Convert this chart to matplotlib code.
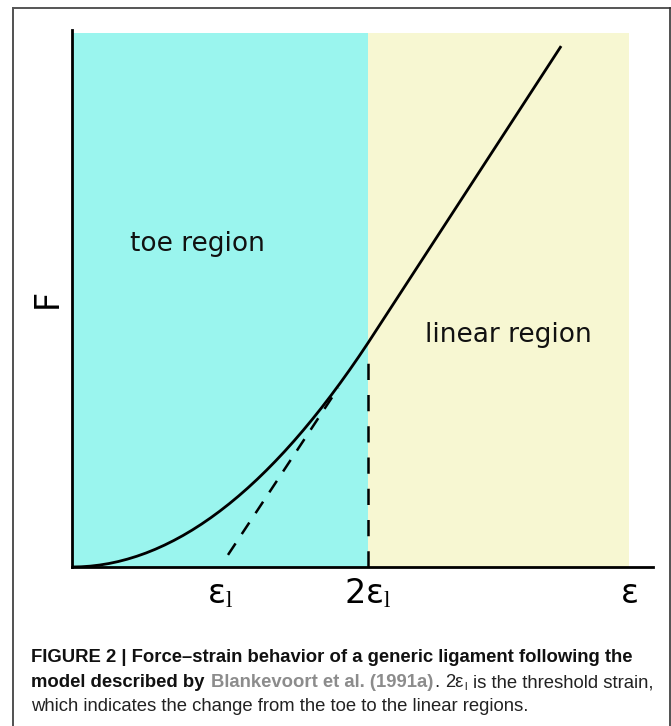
import matplotlib
matplotlib.use("Agg")
import matplotlib.pyplot as plt
from matplotlib.lines import Line2D

# ---------------- data (units: strain in multiples of eps_l, force relative to F(2 eps_l)) -------------
curve_eps = [0.0, 0.0625, 0.125, 0.1875, 0.25, 0.3125, 0.375, 0.4375, 0.5, 0.5625, 0.625,
             0.6875, 0.75, 0.8125, 0.875, 0.9375, 1.0, 1.0625, 1.125, 1.1875, 1.25, 1.3125,
             1.375, 1.4375, 1.5, 1.5625, 1.625, 1.6875, 1.75, 1.8125, 1.875, 1.9375, 2.0, 3.3]
curve_F = [0.0, 0.001, 0.0039, 0.0088, 0.0156, 0.0244, 0.0352, 0.0479, 0.0625, 0.0791, 0.0977,
           0.1182, 0.1406, 0.1650, 0.1914, 0.2197, 0.25, 0.2822, 0.3164, 0.3525, 0.3906, 0.4307,
           0.4727, 0.5166, 0.5625, 0.6104, 0.6602, 0.7119, 0.7656, 0.8213, 0.8789, 0.9385, 1.0, 2.32]
tangent_eps = [1.054, 1.80]
tangent_F = [0.054, 0.80]
threshold_eps = [2.0, 2.0]
threshold_F = [0.0, 0.92]
region_edges = [0.0, 2.0, 3.764]
region_top = 2.385
region_names = ["toe region", "linear region"]
region_label_pos = [(0.845, 1.44), (2.95, 1.036)]
tick_pos = [1.0, 2.0, 3.77]
tick_labels = [r"ε$_\mathrm{l}$", r"2ε$_\mathrm{l}$", "ε"]
y_label = "F"
caption_lines = [
    [("FIGURE 2 | Force\u2013strain behavior of a generic ligament following the", "bold", "#111111")],
    [("model described by", "bold", "#111111"), (" ", None, None),
     ("Blankevoort et al. (1991a)", "bold", "#8c8c8c"), (".", "normal", "#222222"),
     (" ", None, None), ("2ε", "normal", "#222222"), ("_l", "normal", "#222222"),
     (" ", None, None), ("is the threshold strain,", "normal", "#222222")],
    [("which indicates the change from the toe to the linear regions.", "normal", "#222222")],
]

plt.rcParams["mathtext.fontset"] = "custom"
plt.rcParams["mathtext.rm"] = "Liberation Serif"
plt.rcParams["mathtext.it"] = "Liberation Serif:italic"
plt.rcParams["mathtext.bf"] = "Liberation Serif:bold"

W, H = 671, 726
fig = plt.figure(figsize=(W / 100, H / 100), dpi=100)
fig.patch.set_facecolor("white")

# frame around the figure
fig.add_artist(Line2D([13 / W, 13 / W], [0, 1 - 8 / H], color="#333333", lw=1.2))
fig.add_artist(Line2D([13 / W, 670 / W], [1 - 8 / H, 1 - 8 / H], color="#555555", lw=1.4))
fig.add_artist(Line2D([670 / W, 670 / W], [0, 1 - 8 / H], color="#333333", lw=1.2))

ax_left, ax_right, ax_top, ax_bottom = 72, 653, 30, 567
ax = fig.add_axes([ax_left / W, (H - ax_bottom) / H, (ax_right - ax_left) / W, (ax_bottom - ax_top) / H])
ax.set_xlim(0, 3.926)
ax.set_ylim(0, 2.397)

colors = ["#9AF5EE", "#F7F7D2"]
for i in range(2):
    ax.fill_between([region_edges[i], region_edges[i + 1]], 0, region_top,
                    color=colors[i], lw=0, zorder=0)

ax.plot(curve_eps, curve_F, color="black", lw=2.0, solid_joinstyle="round", zorder=3)
ax.plot(tangent_eps, tangent_F, color="black", lw=1.8, dashes=(5.5, 4.5), zorder=2)
ax.plot(threshold_eps, threshold_F, color="black", lw=1.8, dashes=(6.5, 6), zorder=2)

for name, (x, y) in zip(region_names, region_label_pos):
    ax.text(x, y, name, ha="center", va="center", fontsize=19, family="DejaVu Sans", color="#111111")

for s in ["top", "right"]:
    ax.spines[s].set_visible(False)
for s in ["left", "bottom"]:
    ax.spines[s].set_linewidth(2.0)
    ax.spines[s].set_color("black")
ax.set_yticks([])
ax.set_xticks(tick_pos, tick_labels)
ax.tick_params(axis="x", length=0, pad=7, labelsize=24)
ax.set_ylabel(y_label, fontsize=24, labelpad=6)

# ---------------- caption ----------------
renderer = fig.canvas.get_renderer()
fam = ["Liberation Sans Narrow", "Liberation Sans"]


def width_of(s, weight, fs):
    t = fig.text(0, 0, s, fontsize=fs, weight=weight, family=fam)
    w = t.get_window_extent(renderer).width
    t.remove()
    return w


# fit the first line to its width in the reference
fs = 12.0
w1 = width_of(caption_lines[0][0][0], "bold", fs)
fs = fs * 602.0 / w1
space_w = width_of("a a", "normal", fs) - width_of("aa", "normal", fs)

line_y = [662, 687, 711]
x0 = 31
for segs, yb in zip(caption_lines, line_y):
    x = x0
    for s, weight, col in segs:
        if weight is None:
            x += space_w
            continue
        size = fs
        dy = 0
        if s.startswith("_"):
            s = s[1:]
            size = fs * 0.6
            dy = -3
        t = fig.text(x / W, 1 - (yb - dy) / H, s, fontsize=size, weight=weight, color=col,
                     family=fam, ha="left", va="baseline")
        x += t.get_window_extent(renderer).width + 1

fig.savefig("out.png", dpi=100)
